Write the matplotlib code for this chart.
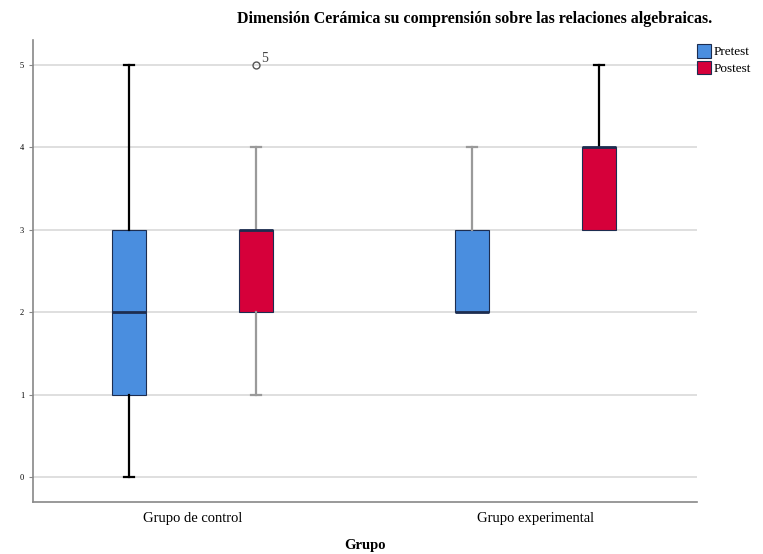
import matplotlib
matplotlib.use("Agg")
from matplotlib import pyplot as plt
from matplotlib.patches import Patch

plt.rcParams['font.family'] = ['Liberation Serif', 'DejaVu Serif']

grupos = ["Grupo de control", "Grupo experimental"]
momentos = ["Pretest", "Postest"]
colores = ["#4A8EDF", "#D6003A"]

# box statistics per group, per moment (pretest, postest)
q1 = [[1, 2], [2, 3]]
mediana = [[2, 3], [2, 4]]
q3 = [[3, 3], [3, 4]]
bigote_inf = [[0, 1], [2, 3]]
bigote_sup = [[5, 4], [4, 5]]
atipicos = [[[], [5]], [[], []]]
etiquetas_atipicos = [[[], ["5"]], [[], []]]
color_bigote = [["black", "#9a9a9a"], ["#9a9a9a", "black"]]

fig = plt.figure(figsize=(7.63, 5.54), dpi=100)
ax = fig.add_axes([0.0433, 0.0939, 0.870, 0.834])

desplaz = [-0.185, 0.185]
for g in range(len(grupos)):
    for m in range(len(momentos)):
        pos = g + desplaz[m]
        st = dict(q1=q1[g][m], med=mediana[g][m], q3=q3[g][m],
                  whislo=bigote_inf[g][m], whishi=bigote_sup[g][m],
                  fliers=atipicos[g][m])
        wc = color_bigote[g][m]
        art = ax.bxp([st], positions=[pos], widths=0.099, capwidths=0.03,
                     showfliers=True, patch_artist=True,
                     boxprops=dict(facecolor=colores[m], edgecolor="#1d2d50", linewidth=0.8),
                     medianprops=dict(color="#1d2d50", linewidth=2),
                     whiskerprops=dict(color=wc, linewidth=1.6),
                     capprops=dict(color=wc, linewidth=1.6),
                     flierprops=dict(marker="o", markerfacecolor="none",
                                     markeredgecolor="#555555", markersize=5),
                     zorder=3)
        # no cap where the whisker has zero length
        if bigote_inf[g][m] == q1[g][m]:
            art["caps"][0].set_visible(False)
        if bigote_sup[g][m] == q3[g][m]:
            art["caps"][1].set_visible(False)
        for v, lab in zip(atipicos[g][m], etiquetas_atipicos[g][m]):
            ax.annotate(lab, (pos, v), xytext=(4, 2), textcoords="offset points",
                        fontsize=10, color="#444444")

ax.set_xlim(-0.464, 1.469)
ax.set_ylim(-0.30, 5.30)
ax.set_yticks(range(0, 6))
ax.set_xticks(range(len(grupos)))
ax.set_xticklabels(grupos, fontsize=10.5)
ax.tick_params(axis="y", labelsize=6, length=3, color="#888888")
ax.tick_params(axis="x", length=0, pad=7)
ax.yaxis.grid(True, color="#d9d9d9", linewidth=1.2, zorder=0)
ax.set_axisbelow(True)
for s in ["top", "right"]:
    ax.spines[s].set_visible(False)
for s in ["left", "bottom"]:
    ax.spines[s].set_color("#888888")
    ax.spines[s].set_linewidth(1.2)

ax.set_xlabel("Grupo", fontsize=10.5, fontweight="bold", labelpad=10)
fig.text(0.622, 0.966, "Dimensión Cerámica su comprensión sobre las relaciones algebraicas.",
         ha="center", va="center", fontsize=11.5, fontweight="bold")

handles = [Patch(facecolor=c, edgecolor="#1d2d50", linewidth=0.8) for c in colores]
fig.legend(handles, momentos, loc="upper left", bbox_to_anchor=(0.907, 0.93),
           frameon=False, fontsize=9.5, handlelength=1.0, handleheight=1.2,
           handletextpad=0.25, labelspacing=0.2, borderaxespad=0)

fig.savefig("out.png", dpi=100)
